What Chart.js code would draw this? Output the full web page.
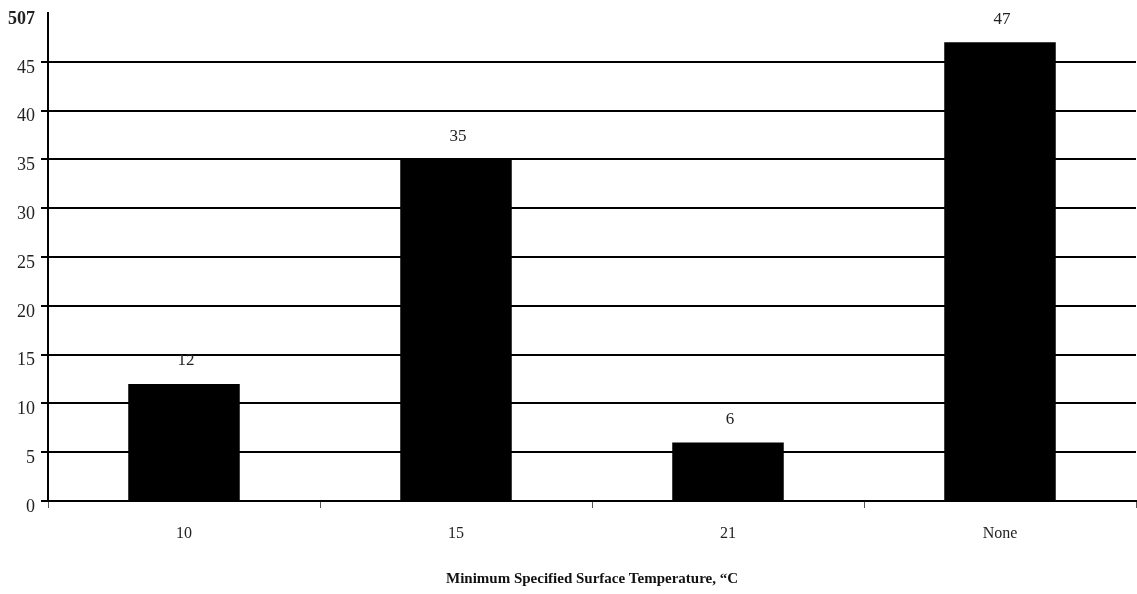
<!DOCTYPE html>
<html>
<head>
<meta charset="utf-8">
<script src="https://cdn.jsdelivr.net/npm/chart.js@4.4.1/dist/chart.umd.min.js"></script>
<style>
  html, body { margin: 0; padding: 0; background: #fff; }
  #wrap { width: 1137px; height: 594px; }
</style>
</head>
<body>
<div id="wrap"><canvas id="chart" width="1137" height="594"></canvas></div>
<script>
// datos de la grafica
const categorias = ["10", "15", "21", "None"];
const valores = [12, 35, 6, 47];
const ticksY = [0, 5, 10, 15, 20, 25, 30, 35, 40, 45, 50];
const etiquetaTope = "507"; // asi aparece en el original
const tituloX = "Minimum Specified Surface Temperature, \u201cC";

const fuente = "'Liberation Serif', 'Times New Roman', serif";

/* etiquetas encima de cada barra */
const etiquetasBarras = {
  id: "etiquetasBarras",
  afterDatasetsDraw(chart) {
    const ctx = chart.ctx;
    const meta = chart.getDatasetMeta(0);
    ctx.save();
    ctx.fillStyle = "#222";
    ctx.font = "17px " + fuente;
    ctx.textAlign = "center";
    ctx.textBaseline = "middle";
    meta.data.forEach((barra, i) => {
      ctx.fillText(String(valores[i]), barra.x + 2, barra.y - 23);
    });
    ctx.restore();
  },
};

const chart = new Chart(document.getElementById("chart").getContext("2d"), {
  type: "bar",
  data: {
    labels: categorias,
    datasets: [
      {
        data: valores,
        backgroundColor: "#000",
        borderWidth: 0,
        categoryPercentage: 1,
        barPercentage: 0.41,
      },
    ],
  },
  options: {
    responsive: false,
    animation: false,
    layout: { padding: { top: 13, right: 1, left: 0, bottom: 6 } },
    plugins: {
      legend: { display: false },
      tooltip: { enabled: false },
    },
    scales: {
      x: {
        grid: { drawOnChartArea: false, offset: true, tickLength: 7, color: "#555", lineWidth: 1 },
        border: { color: "#000", width: 2 },
        ticks: { color: "#222", font: { family: fuente, size: 16 }, padding: 16 },
        title: {
          display: true,
          text: tituloX,
          color: "#111",
          font: { family: fuente, size: 15, weight: "bold" },
          padding: { top: 24, bottom: 0 },
        },
        afterFit(scale) { scale.height = 87; },
      },
      y: {
        min: 0,
        max: 50,
        afterBuildTicks(scale) { scale.ticks = ticksY.map((v) => ({ value: v })); },
        grid: {
          color: (c) => (c.tick && c.tick.value === 50 ? "rgba(0,0,0,0)" : "#000"),
          lineWidth: 2,
          tickLength: 7,
        },
        border: { color: "#000", width: 2 },
        ticks: {
          color: "#222",
          font: (c) => (c.tick && c.tick.value === 50
            ? { family: fuente, size: 18, weight: "bold" }
            : { family: fuente, size: 18 }),
          padding: 6,
          labelOffset: 6,
          callback: (v) => (v === 50 ? etiquetaTope : String(v)),
        },
        afterFit(scale) {
          scale.width = 48;
          scale.paddingTop = 0;
          scale.paddingBottom = 0;
        },
      },
    },
  },
  plugins: [etiquetasBarras],
});
</script>
</body>
</html>
